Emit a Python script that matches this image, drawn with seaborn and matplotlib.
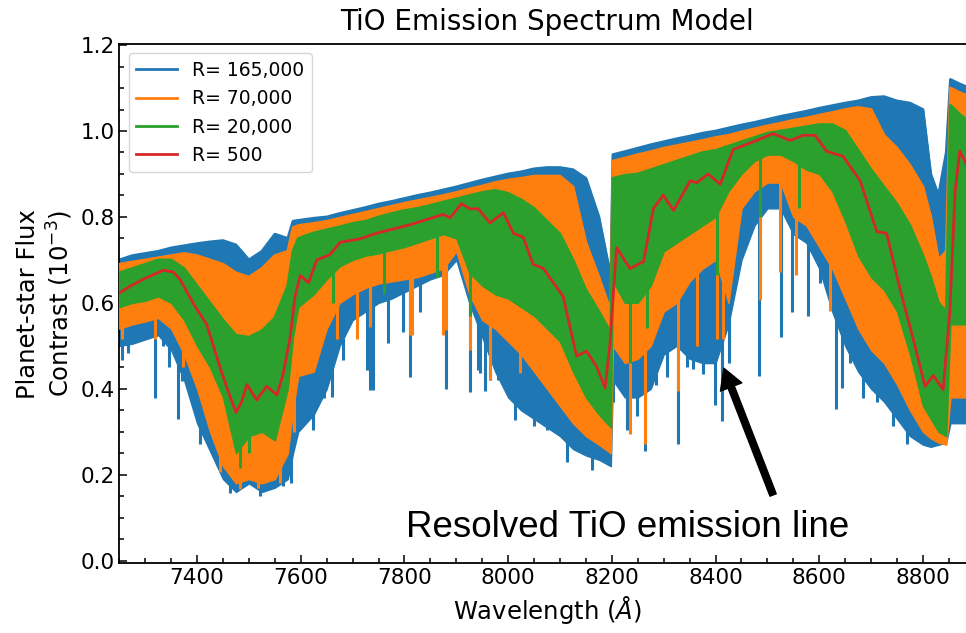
import numpy as np
import pandas as pd
import matplotlib
matplotlib.use("Agg")
import matplotlib.pyplot as plt
import seaborn as sns
from matplotlib.ticker import MultipleLocator, FormatStrFormatter

# ---------------- data ----------------
WAVE = [7250, 7275, 7300, 7325, 7350, 7375, 7400, 7425, 7450, 7475,
        7500, 7525, 7550, 7575, 7585, 7595, 7625, 7650, 7675, 7700,
        7725, 7750, 7775, 7800, 7825, 7850, 7875, 7900, 7925, 7950,
        7975, 8000, 8025, 8050, 8075, 8100, 8125, 8150, 8175, 8198,
        8202, 8225, 8250, 8275, 8300, 8325, 8350, 8375, 8400, 8425,
        8450, 8475, 8500, 8525, 8550, 8575, 8600, 8625, 8650, 8675,
        8700, 8725, 8750, 8775, 8800, 8815, 8830, 8845, 8853, 8870,
        8890]

# R = 165,000 envelope
BLUE_HI = [0.70, 0.71, 0.715, 0.72, 0.728, 0.733, 0.738, 0.742, 0.745, 0.735,
           0.70, 0.72, 0.76, 0.75, 0.79, 0.792, 0.797, 0.80, 0.808, 0.815,
           0.822, 0.83, 0.836, 0.843, 0.85, 0.856, 0.863, 0.87, 0.878, 0.886,
           0.893, 0.90, 0.905, 0.912, 0.915, 0.915, 0.91, 0.89, 0.80, 0.66,
           0.945, 0.952, 0.96, 0.968, 0.975, 0.982, 0.988, 0.995, 1.00, 1.007,
           1.014, 1.02, 1.027, 1.034, 1.04, 1.046, 1.053, 1.059, 1.065, 1.07,
           1.078, 1.08, 1.07, 1.065, 1.05, 0.90, 0.85, 0.95, 1.12, 1.11,
           1.10]
BLUE_LO = [0.50, 0.505, 0.515, 0.525, 0.49, 0.42, 0.32, 0.255, 0.19, 0.16,
           0.18, 0.16, 0.17, 0.19, 0.25, 0.30, 0.34, 0.40, 0.50, 0.56,
           0.58, 0.60, 0.61, 0.625, 0.64, 0.655, 0.665, 0.70, 0.60, 0.52,
           0.44, 0.38, 0.35, 0.33, 0.31, 0.29, 0.26, 0.245, 0.235, 0.22,
           0.42, 0.38, 0.38, 0.40, 0.48, 0.50, 0.47, 0.46, 0.46, 0.55,
           0.70, 0.78, 0.82, 0.82, 0.76, 0.74, 0.68, 0.58, 0.50, 0.44,
           0.40, 0.37, 0.33, 0.29, 0.27, 0.265, 0.27, 0.275, 0.32, 0.32,
           0.32]

# R = 70,000 envelope
ORANGE_HI = [0.69, 0.695, 0.70, 0.705, 0.71, 0.715, 0.71, 0.70, 0.69, 0.67,
             0.66, 0.68, 0.71, 0.72, 0.775, 0.78, 0.785, 0.79, 0.797, 0.804,
             0.811, 0.818, 0.825, 0.832, 0.838, 0.844, 0.85, 0.857, 0.865, 0.872,
             0.88, 0.886, 0.89, 0.895, 0.895, 0.895, 0.87, 0.74, 0.66, 0.58,
             0.93, 0.937, 0.945, 0.952, 0.96, 0.966, 0.972, 0.978, 0.985, 0.99,
             0.998, 1.005, 1.012, 1.018, 1.025, 1.03, 1.037, 1.043, 1.05, 1.055,
             1.05, 0.99, 0.96, 0.92, 0.87, 0.80, 0.70, 0.72, 1.10, 1.09,
             1.08]
ORANGE_LO = [0.54, 0.55, 0.557, 0.565, 0.54, 0.48, 0.40, 0.30, 0.22, 0.18,
             0.19, 0.18, 0.19, 0.25, 0.35, 0.43, 0.44, 0.54, 0.60, 0.62,
             0.635, 0.645, 0.65, 0.655, 0.66, 0.67, 0.68, 0.72, 0.62, 0.56,
             0.54, 0.51, 0.48, 0.44, 0.40, 0.36, 0.32, 0.29, 0.27, 0.25,
             0.50, 0.46, 0.47, 0.50, 0.58, 0.60, 0.65, 0.68, 0.70, 0.60,
             0.82, 0.86, 0.88, 0.88, 0.80, 0.78, 0.73, 0.68, 0.61, 0.54,
             0.49, 0.46, 0.41, 0.35, 0.30, 0.285, 0.275, 0.27, 0.38, 0.38,
             0.38]

# R = 20,000 envelope
GREEN_HI = [0.67, 0.68, 0.69, 0.70, 0.70, 0.68, 0.64, 0.60, 0.56, 0.525,
            0.52, 0.535, 0.565, 0.64, 0.72, 0.75, 0.763, 0.77, 0.777, 0.785,
            0.79, 0.80, 0.808, 0.815, 0.82, 0.827, 0.835, 0.842, 0.85, 0.857,
            0.862, 0.855, 0.84, 0.82, 0.79, 0.76, 0.70, 0.63, 0.58, 0.53,
            0.89, 0.897, 0.90, 0.91, 0.92, 0.93, 0.94, 0.95, 0.955, 0.965,
            0.975, 0.985, 0.995, 1.0, 1.005, 1.01, 1.015, 1.015, 1.0, 0.955,
            0.91, 0.87, 0.83, 0.78, 0.71, 0.66, 0.60, 0.58, 1.06, 1.04,
            1.02]
GREEN_LO = [0.59, 0.60, 0.605, 0.615, 0.60, 0.56, 0.50, 0.45, 0.38, 0.25,
            0.29, 0.30, 0.28, 0.40, 0.52, 0.59, 0.62, 0.655, 0.685, 0.70,
            0.71, 0.715, 0.723, 0.73, 0.74, 0.75, 0.76, 0.75, 0.67, 0.64,
            0.62, 0.61, 0.59, 0.57, 0.54, 0.51, 0.44, 0.38, 0.34, 0.31,
            0.65, 0.60, 0.60, 0.64, 0.72, 0.74, 0.76, 0.78, 0.80, 0.86,
            0.90, 0.93, 0.945, 0.945, 0.93, 0.91, 0.90, 0.86, 0.79, 0.71,
            0.66, 0.63, 0.58, 0.48, 0.36, 0.33, 0.30, 0.29, 0.55, 0.55,
            0.55]

# individual deep absorption lines (wavelength, bottom, top of each line)
BLUE_LINE_WAVE = [7255, 7267, 7319, 7335, 7345, 7364, 7370, 7406, 7438, 7464,
                  7521, 7566, 7582, 7624, 7644, 7660, 7682, 7727, 7734, 7740,
                  7769, 7798, 7811, 7830, 7881, 7926, 7942, 7946, 7955, 7965,
                  7981, 8013, 8049, 8074, 8113, 8161, 8203, 8229, 8248, 8264,
                  8286, 8306, 8328, 8344, 8357, 8376, 8399, 8412, 8426, 8484,
                  8527, 8547, 8579, 8601, 8632, 8643, 8659, 8685, 8711, 8743,
                  8769]
BLUE_LINE_LOW = [0.468, 0.484, 0.378, 0.50, 0.45, 0.329, 0.419, 0.272, 0.223, 0.157,
                 0.15, 0.174, 0.182, 0.304, 0.378, 0.38, 0.467, 0.443, 0.397, 0.398,
                 0.506, 0.533, 0.428, 0.578, 0.40, 0.393, 0.443, 0.436, 0.394, 0.42,
                 0.42, 0.327, 0.313, 0.304, 0.23, 0.21, 0.37, 0.304, 0.337, 0.255,
                 0.41, 0.427, 0.272, 0.451, 0.447, 0.435, 0.362, 0.325, 0.459, 0.431,
                 0.521, 0.578, 0.57, 0.647, 0.353, 0.402, 0.46, 0.378, 0.37, 0.313,
                 0.272]
BLUE_LINE_TOP = [0.52, 0.53, 0.55, 0.55, 0.52, 0.50, 0.50, 0.35, 0.30, 0.22,
                 0.20, 0.22, 0.25, 0.40, 0.45, 0.50, 0.55, 0.62, 0.62, 0.62,
                 0.65, 0.66, 0.66, 0.67, 0.70, 0.65, 0.60, 0.60, 0.58, 0.55,
                 0.50, 0.45, 0.40, 0.40, 0.35, 0.30, 0.50, 0.45, 0.45, 0.45,
                 0.50, 0.55, 0.55, 0.55, 0.55, 0.55, 0.55, 0.55, 0.65, 0.85,
                 0.88, 0.85, 0.80, 0.75, 0.65, 0.60, 0.55, 0.50, 0.45, 0.40,
                 0.35]
ORANGE_LINE_WAVE = [7255, 7319, 7373, 7444, 7483, 7518, 7560, 7586, 7669, 7708,
                    7734, 7811, 7814, 7875, 7881, 7926, 7965, 8023, 8235, 8264,
                    8328, 8364, 8402, 8415, 8486, 8524, 8556, 8621]
ORANGE_LINE_LOW = [0.517, 0.517, 0.451, 0.206, 0.166, 0.17, 0.18, 0.30, 0.517, 0.517,
                   0.545, 0.525, 0.525, 0.525, 0.537, 0.49, 0.42, 0.436, 0.296, 0.272,
                   0.394, 0.50, 0.517, 0.517, 0.606, 0.672, 0.664, 0.582]
ORANGE_LINE_TOP = [0.56, 0.58, 0.50, 0.25, 0.20, 0.20, 0.22, 0.40, 0.60, 0.63,
                   0.65, 0.67, 0.67, 0.70, 0.70, 0.64, 0.57, 0.50, 0.50, 0.50,
                   0.62, 0.70, 0.72, 0.65, 0.90, 0.90, 0.82, 0.70]
GREEN_LINE_WAVE = [7483, 7500, 7663, 7760, 7862, 7926, 8235, 8267, 8402, 8486, 8560]
GREEN_LINE_LOW = [0.215, 0.25, 0.60, 0.62, 0.66, 0.57, 0.459, 0.541, 0.664, 0.80, 0.82]
GREEN_LINE_TOP = [0.30, 0.32, 0.68, 0.73, 0.77, 0.69, 0.62, 0.66, 0.82, 0.95, 0.94]

# R = 500
RED_WAVE = [7250, 7271, 7296, 7320, 7335, 7354, 7367, 7393, 7419, 7425,
            7444, 7460, 7475, 7486, 7496, 7515, 7534, 7554, 7566, 7579,
            7589, 7599, 7615, 7631, 7656, 7676, 7714, 7746, 7811, 7875,
            7888, 7910, 7926, 7942, 7965, 7991, 8010, 8029, 8048, 8068,
            8106, 8132, 8151, 8171, 8187, 8196, 8209, 8235, 8261, 8280,
            8299, 8319, 8351, 8364, 8386, 8409, 8434, 8479, 8511, 8544,
            8569, 8592, 8614, 8646, 8679, 8711, 8730, 8756, 8781, 8804,
            8820, 8839, 8852, 8862, 8871, 8883, 8890]
RED_FLUX = [0.623, 0.639, 0.655, 0.668, 0.676, 0.672, 0.655, 0.598, 0.549, 0.525,
            0.451, 0.394, 0.345, 0.37, 0.41, 0.374, 0.406, 0.386, 0.435, 0.517,
            0.615, 0.664, 0.647, 0.70, 0.712, 0.741, 0.749, 0.762, 0.782, 0.806,
            0.798, 0.831, 0.819, 0.819, 0.786, 0.81, 0.762, 0.753, 0.69, 0.68,
            0.615, 0.476, 0.488, 0.451, 0.402, 0.50, 0.729, 0.68, 0.696, 0.819,
            0.851, 0.815, 0.884, 0.88, 0.90, 0.876, 0.957, 0.978, 0.994, 0.978,
            0.99, 0.99, 0.953, 0.941, 0.884, 0.766, 0.762, 0.631, 0.517, 0.406,
            0.431, 0.398, 0.582, 0.86, 0.953, 0.925, 0.90]

LABELS = ["R= 165,000", "R= 70,000", "R= 20,000", "R= 500"]

# ---------------- figure ----------------
env = pd.DataFrame({"wave": WAVE, "b_hi": BLUE_HI, "b_lo": BLUE_LO,
                    "o_hi": ORANGE_HI, "o_lo": ORANGE_LO,
                    "g_hi": GREEN_HI, "g_lo": GREEN_LO})
red = pd.DataFrame({"wave": RED_WAVE, "flux": RED_FLUX})

plt.rcParams['font.family'] = ['DejaVu Sans']
plt.rcParams['mathtext.fontset'] = 'dejavusans'

fig = plt.figure(figsize=(9.66, 6.33), dpi=100)
ax = fig.add_axes([0.1235, 0.1101, 0.8856, 0.8204])

C_BLUE, C_ORANGE, C_GREEN, C_RED = sns.color_palette("tab10", 4)
LW_LINE = 2.2

# R = 165,000
ax.fill_between(env["wave"], env["b_lo"], env["b_hi"], color=C_BLUE, lw=1.0, zorder=2)
ax.vlines(BLUE_LINE_WAVE, BLUE_LINE_LOW, BLUE_LINE_TOP, color=C_BLUE, lw=LW_LINE, zorder=2)
sns.lineplot(data=env, x="wave", y="b_hi", color=C_BLUE, lw=2, label=LABELS[0], ax=ax, zorder=2)
# R = 70,000
ax.fill_between(env["wave"], env["o_lo"], env["o_hi"], color=C_ORANGE, lw=1.0, zorder=3)
ax.vlines(ORANGE_LINE_WAVE, ORANGE_LINE_LOW, ORANGE_LINE_TOP, color=C_ORANGE, lw=LW_LINE, zorder=3)
sns.lineplot(data=env, x="wave", y="o_hi", color=C_ORANGE, lw=2, label=LABELS[1], ax=ax, zorder=3)
# R = 20,000
ax.fill_between(env["wave"], env["g_lo"], env["g_hi"], color=C_GREEN, lw=1.0, zorder=4)
ax.vlines(GREEN_LINE_WAVE, GREEN_LINE_LOW, GREEN_LINE_TOP, color=C_GREEN, lw=LW_LINE, zorder=4)
sns.lineplot(data=env, x="wave", y="g_hi", color=C_GREEN, lw=2, label=LABELS[2], ax=ax, zorder=4)
# R = 500
sns.lineplot(data=red, x="wave", y="flux", color=C_RED, lw=2, label=LABELS[3], ax=ax, zorder=5)

ax.set_xlim(7250, 8900)
ax.set_ylim(-0.006, 1.2025)
ax.xaxis.set_major_locator(MultipleLocator(200))
ax.xaxis.set_minor_locator(MultipleLocator(50))
ax.yaxis.set_major_locator(MultipleLocator(0.2))
ax.yaxis.set_minor_locator(MultipleLocator(0.05))
ax.yaxis.set_major_formatter(FormatStrFormatter("%.1f"))
ax.tick_params(which='both', direction='in', labelsize=15.5, width=1.1)
ax.tick_params(which='major', length=6)
ax.tick_params(which='minor', length=3.6)
for s in ax.spines.values():
    s.set_linewidth(1.3)

ax.set_title("TiO Emission Spectrum Model", fontsize=20, pad=10)
ax.set_xlabel("Wavelength ($Å$)", fontsize=17.5)
ax.set_ylabel("Planet-star Flux\nContrast ($10^{-3}$)", fontsize=17.5)

leg = ax.legend(loc='upper left', fontsize=13.5, handlelength=2.2)

ax.annotate("", xy=(8416, 0.448), xytext=(8511, 0.153),
            arrowprops=dict(facecolor='black', edgecolor='black', width=4.8,
                            headwidth=16.5, headlength=14.5, shrink=0.0),
            zorder=6)
ax.text(8230, 0.056, "Resolved TiO emission line", fontsize=26.5,
        family=['Liberation Sans', 'DejaVu Sans'], ha='center', va='baseline', zorder=6)

fig.savefig("out.png", dpi=100)
